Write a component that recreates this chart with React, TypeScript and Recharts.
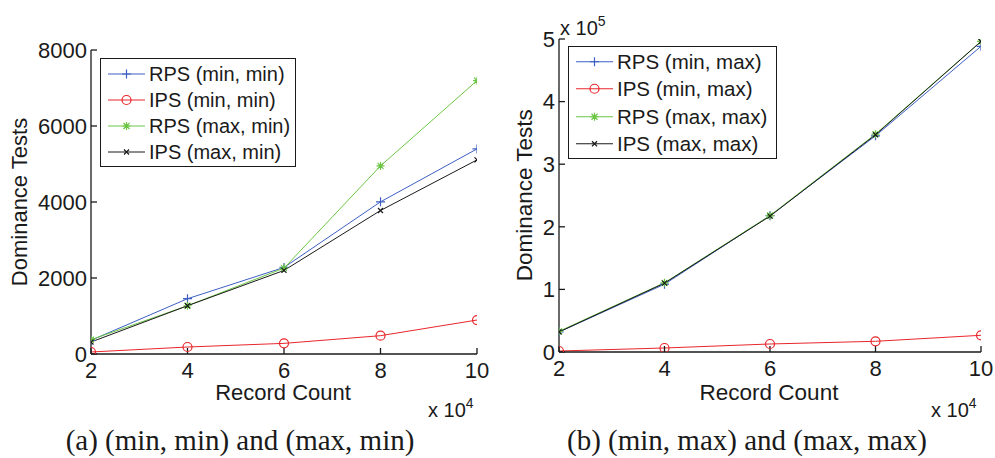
import { LineChart, Line, XAxis, YAxis } from "recharts";

// x values (record count) and the series
const RECORD_COUNT = [20000, 40000, 60000, 80000, 100000];
const X_TICKS = [20000, 40000, 60000, 80000, 100000];

// (a) (min, min) and (max, min)
const RPS_MIN_MIN = [360, 1455, 2278, 4004, 5397];
const IPS_MIN_MIN = [53, 184, 280, 482, 894];
const RPS_MAX_MIN = [377, 1270, 2260, 4950, 7194];
const IPS_MAX_MIN = [315, 1270, 2199, 3776, 5108];
const Y_TICKS_A = [0, 2000, 4000, 6000, 8000];

// (b) (min, max) and (max, max)
const RPS_MIN_MAX = [32000, 108300, 217700, 345300, 488300];
const IPS_MIN_MAX = [1600, 6400, 12800, 17100, 26700];
const RPS_MAX_MAX = [33000, 110500, 218000, 348000, 496300];
const IPS_MAX_MAX = [32000, 110000, 217000, 347000, 496000];
const Y_TICKS_B = [0, 100000, 200000, 300000, 400000, 500000];

const FONT = '"Liberation Sans", Arial, Helvetica, sans-serif';
const SERIF = '"Liberation Serif", "Times New Roman", serif';
const INK = "#1a1a1a";
const BLUE = "#3d5fc4";
const RED = "#e8262b";
const GREEN = "#6cc644";
const BLACK = "#1a1a1a";

type Shape = "plus" | "circle" | "star" | "cross";
type Series = { key: string; name: string; color: string; shape: Shape; values: number[] };

const SERIES_A: Series[] = [
  { key: "rpsMinMin", name: "RPS (min, min)", color: BLUE, shape: "plus", values: RPS_MIN_MIN },
  { key: "ipsMinMin", name: "IPS (min, min)", color: RED, shape: "circle", values: IPS_MIN_MIN },
  { key: "rpsMaxMin", name: "RPS (max, min)", color: GREEN, shape: "star", values: RPS_MAX_MIN },
  { key: "ipsMaxMin", name: "IPS (max, min)", color: BLACK, shape: "cross", values: IPS_MAX_MIN },
];

const SERIES_B: Series[] = [
  { key: "rpsMinMax", name: "RPS (min, max)", color: BLUE, shape: "plus", values: RPS_MIN_MAX },
  { key: "ipsMinMax", name: "IPS (min, max)", color: RED, shape: "circle", values: IPS_MIN_MAX },
  { key: "rpsMaxMax", name: "RPS (max, max)", color: GREEN, shape: "star", values: RPS_MAX_MAX },
  { key: "ipsMaxMax", name: "IPS (max, max)", color: BLACK, shape: "cross", values: IPS_MAX_MAX },
];

function toRows(series: Series[]) {
  return RECORD_COUNT.map((x, i) => {
    const row: Record<string, number> = { x };
    series.forEach((s) => (row[s.key] = s.values[i]));
    return row;
  });
}

function Marker({ shape, x, y, color }: { shape: Shape; x: number; y: number; color: string }) {
  let d = "";
  if (shape === "circle") {
    return <circle cx={x} cy={y} r={4.5} stroke={color} strokeWidth={1.2} fill="none" />;
  }
  if (shape === "plus") d = `M${x - 4.5},${y}H${x + 4.5}M${x},${y - 4.5}V${y + 4.5}`;
  if (shape === "star")
    d = `M${x - 4},${y}H${x + 4}M${x},${y - 4}V${y + 4}M${x - 3},${y - 3}L${x + 3},${y + 3}M${x - 3},${y + 3}L${x + 3},${y - 3}`;
  if (shape === "cross") d = `M${x - 2.5},${y - 2.5}L${x + 2.5},${y + 2.5}M${x - 2.5},${y + 2.5}L${x + 2.5},${y - 2.5}`;
  return <path d={d} stroke={color} strokeWidth={1.2} fill="none" />;
}

interface PanelProps {
  left: number;
  width: number;
  margin: { top: number; right: number; bottom: number; left: number };
  series: Series[];
  yTicks: number[];
  yFmt: (v: number) => string;
  yTickMargin: number;
  fontSize: number;
}

function Panel({ left, width, margin, series, yTicks, yFmt, yTickMargin, fontSize }: PanelProps) {
  const yDomain = [yTicks[0], yTicks[yTicks.length - 1]];
  const tick = { fill: INK, fontSize, fontFamily: FONT };
  return (
    <div style={{ position: "absolute", left, top: 0 }}>
      <LineChart width={width} height={420} data={toRows(series)} margin={margin}>
        <XAxis
          xAxisId="b"
          dataKey="x"
          type="number"
          domain={[X_TICKS[0], X_TICKS[X_TICKS.length - 1]]}
          ticks={X_TICKS}
          interval={0}
          allowDataOverflow
          tickFormatter={(v: number) => String(v / 1e4)}
          tickSize={-6}
          tickMargin={14}
          height={30}
          stroke={INK}
          strokeWidth={1.3}
          tick={tick}
        />
        <XAxis
          xAxisId="t"
          orientation="top"
          dataKey="x"
          type="number"
          domain={[X_TICKS[0], X_TICKS[X_TICKS.length - 1]]}
          ticks={X_TICKS}
          interval={0}
          allowDataOverflow
          tickFormatter={() => ""}
          tickSize={-6}
          height={0}
          stroke={INK}
          strokeWidth={1.3}
        />
        <YAxis
          yAxisId="l"
          type="number"
          domain={yDomain}
          ticks={yTicks}
          interval={0}
          allowDataOverflow
          tickFormatter={yFmt}
          tickSize={-6}
          tickMargin={yTickMargin}
          width={60}
          stroke={INK}
          strokeWidth={1.3}
          tick={tick}
        />
        <YAxis
          yAxisId="r"
          orientation="right"
          type="number"
          domain={yDomain}
          ticks={yTicks}
          interval={0}
          allowDataOverflow
          tickFormatter={() => ""}
          tickSize={-6}
          width={0}
          stroke={INK}
          strokeWidth={1.3}
        />
        {series.map((s) => (
          <Line
            key={s.key}
            xAxisId="b"
            yAxisId="l"
            dataKey={s.key}
            name={s.name}
            stroke={s.color}
            strokeWidth={1}
            activeDot={false}
            isAnimationActive={false}
            dot={(p: any) => <Marker key={`${s.key}-${p.index}`} shape={s.shape} x={p.cx} y={p.cy} color={s.color} />}
          />
        ))}
      </LineChart>
    </div>
  );
}

function LegendBox({ series, left, top, width, rowH, fontSize, pad }: {
  series: Series[]; left: number; top: number; width: number; rowH: number; fontSize: number; pad: number;
}) {
  return (
    <div
      style={{
        position: "absolute",
        left,
        top,
        width,
        boxSizing: "border-box",
        border: `1.3px solid ${INK}`,
        background: "#fff",
        padding: `${pad}px 0`,
        fontFamily: FONT,
        fontSize,
        color: INK,
      }}
    >
      {series.map((s) => (
        <div key={s.key} style={{ display: "flex", alignItems: "center", height: rowH, lineHeight: `${rowH}px` }}>
          <svg width={45} height={rowH} style={{ flex: "none" }}>
            <line x1={7} x2={44} y1={rowH / 2} y2={rowH / 2} stroke={s.color} strokeWidth={1} />
            <Marker shape={s.shape} x={25.5} y={rowH / 2} color={s.color} />
          </svg>
          <span style={{ marginLeft: 3, whiteSpace: "nowrap" }}>{s.name}</span>
        </div>
      ))}
    </div>
  );
}

// plain text line; x,y is the centre of a full line box of height `size`
function Txt({ x, y, size, children, family = FONT, rotate = false }: any) {
  const w = 400;
  if (rotate) {
    return (
      <div
        style={{
          position: "absolute",
          left: x - w / 2,
          top: y - size / 2,
          width: w,
          height: size,
          lineHeight: `${size}px`,
          fontSize: size,
          fontFamily: family,
          color: INK,
          textAlign: "center",
          whiteSpace: "nowrap",
          transform: "rotate(-90deg)",
          transformOrigin: `${w / 2}px ${size / 2}px`,
        }}
      >
        {children}
      </div>
    );
  }
  // tighter box, same baseline
  return (
    <div
      style={{
        position: "absolute",
        left: x - w / 2,
        top: y - size * 0.4,
        width: w,
        height: size * 0.8,
        lineHeight: `${size * 0.8}px`,
        fontSize: size,
        fontFamily: family,
        color: INK,
        textAlign: "center",
        whiteSpace: "nowrap",
      }}
    >
      {children}
    </div>
  );
}

function Mult({ x, y, exp }: { x: number; y: number; exp: number }) {
  return (
    <div style={{ position: "absolute", left: x, top: y, fontFamily: FONT, fontSize: 20, lineHeight: "20px", color: INK, whiteSpace: "nowrap" }}>
      x 10<sup style={{ fontSize: 14, position: "relative", top: -1 }}>{exp}</sup>
    </div>
  );
}

export default function App() {
  return (
    <div style={{ position: "absolute", left: 0, top: 0, width: 995, height: 458, background: "#fff", overflow: "hidden" }}>
      <Panel
        left={0}
        width={497}
        margin={{ top: 50, right: 20, bottom: 36, left: 31 }}
        series={SERIES_A}
        yTicks={Y_TICKS_A}
        yFmt={(v) => String(v)}
        yTickMargin={10}
        fontSize={22}
      />
      <Panel
        left={497}
        width={498}
        margin={{ top: 39, right: 14, bottom: 38, left: 2 }}
        series={SERIES_B}
        yTicks={Y_TICKS_B}
        yFmt={(v) => String(v / 1e5)}
        yTickMargin={10}
        fontSize={22}
      />

      <LegendBox series={SERIES_A} left={100} top={58} width={196} rowH={26} fontSize={20} pad={1.5} />
      <LegendBox series={SERIES_B} left={568} top={46} width={209} rowH={27.5} fontSize={20.5} pad={0.5} />

      <Txt x={20.4} y={202} size={22} rotate>Dominance Tests</Txt>
      <Txt x={525} y={195} size={22.5} rotate>Dominance Tests</Txt>
      <Txt x={283} y={393} size={22}>Record Count</Txt>
      <Txt x={769} y={393} size={22.5}>Record Count</Txt>

      <Mult x={428} y={394} exp={4} />
      <Mult x={931} y={394} exp={4} />
      <Mult x={560} y={12} exp={5} />

      <Txt x={240} y={441} size={29} family={SERIF}>(a) (min, min) and (max, min)</Txt>
      <Txt x={747} y={441} size={29} family={SERIF}>(b) (min, max) and (max, max)</Txt>
    </div>
  );
}
